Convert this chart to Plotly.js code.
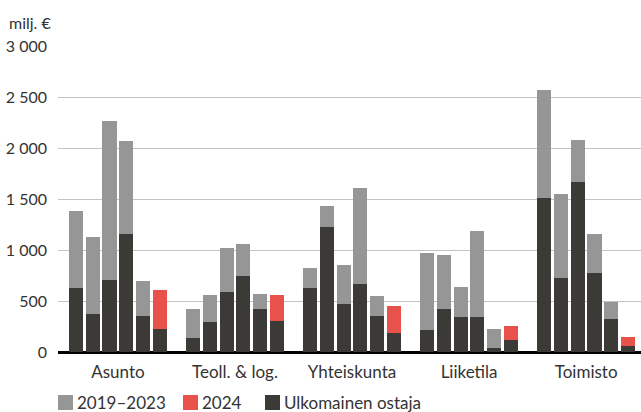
<!DOCTYPE html>
<html>
<head>
<meta charset="utf-8">
<script src="https://cdn.plot.ly/plotly-3.0.1.min.js"></script>
<style>
  html, body { margin: 0; padding: 0; background: #ffffff; }
  #chart { width: 641px; height: 412px; }
</style>
</head>
<body>
<div id="chart"></div>
<script>
// Categories and years
const categories = ['Asunto', 'Teoll. & log.', 'Yhteiskunta', 'Liiketila', 'Toimisto'];
const years = ['2019', '2020', '2021', '2022', '2023', '2024'];

// Total transaction volume per year (milj. €)
const asuntoTotal    = [1385, 1130, 2260, 2070, 700, 612];
const teollTotal     = [422, 560, 1020, 1060, 570, 560];
const yhteisTotal    = [825, 1434, 854, 1610, 550, 452];
const liikeTotal     = [972, 953, 638, 1188, 226, 255];
const toimistoTotal  = [2573, 1552, 2082, 1159, 491, 147];

// Foreign buyer share (milj. €)
const asuntoForeign   = [630, 373, 710, 1160, 354, 226];
const teollForeign    = [137, 295, 590, 746, 422, 304];
const yhteisForeign   = [628, 1228, 471, 668, 354, 187];
const liikeForeign    = [216, 422, 344, 344, 39, 118];
const toimistoForeign = [1512, 727, 1669, 776, 324, 59];

// Y-axis ticks
const yTickVals = [0, 500, 1000, 1500, 2000, 2500, 3000];
const yTickText = ['0', '500', '1 000', '1 500', '2 000', '2 500', '3 000'];

// Legend labels and colours
const legendNames = ['2019–2023', '2024', 'Ulkomainen ostaja'];
const legendColors = ['#969696', '#e8524a', '#3b3a36'];

const totals = [asuntoTotal, teollTotal, yhteisTotal, liikeTotal, toimistoTotal];
const foreigns = [asuntoForeign, teollForeign, yhteisForeign, liikeForeign, toimistoForeign];

const slotsPerGroup = years.length + 1;
const xDark = [], yDark = [], xGray = [], yGray = [], xRed = [], yRed = [];
categories.forEach((c, g) => {
  years.forEach((yr, i) => {
    const x = g * slotsPerGroup + i;
    xDark.push(x); yDark.push(foreigns[g][i]);
    const rest = totals[g][i] - foreigns[g][i];
    if (yr === '2024') { xRed.push(x); yRed.push(rest); }
    else { xGray.push(x); yGray.push(rest); }
  });
});
const groupCenters = categories.map((c, g) => g * slotsPerGroup + (years.length - 1) / 2);

const barW = 0.84;
const FONT = 'Lato, "Open Sans", sans-serif';
const TXT = '#333333';
const traces = [
  { type: 'bar', x: xDark, y: yDark, width: barW, name: legendNames[2],
    marker: { color: legendColors[2], line: { width: 0 } } },
  { type: 'bar', x: xGray, y: yGray, width: barW, name: legendNames[0],
    marker: { color: legendColors[0], line: { width: 0 } } },
  { type: 'bar', x: xRed, y: yRed, width: barW, name: legendNames[1],
    marker: { color: legendColors[1], line: { width: 0 } } }
];

// Plot area geometry (pixels) used to place the custom legend
const M = { l: 58, r: 0, t: 46, b: 60 };
const W = 641, H = 412;
const pw = W - M.l - M.r, ph = H - M.t - M.b;
const px = v => (v - M.l) / pw;
const py = v => (H - M.b - v) / ph;

const legendX = [58, 183, 265];
const sq = 15;
const legendTop = 395;
const shapes = [], annotations = [];
legendNames.forEach((n, i) => {
  shapes.push({ type: 'rect', xref: 'paper', yref: 'paper',
    x0: px(legendX[i]), x1: px(legendX[i] + sq), y0: py(legendTop + sq), y1: py(legendTop),
    fillcolor: legendColors[i], line: { width: 0 } });
  annotations.push({ text: n, xref: 'paper', yref: 'paper',
    x: px(legendX[i] + sq + 2), y: py(legendTop + sq / 2 - 0.5), xanchor: 'left', yanchor: 'middle',
    showarrow: false, font: { family: FONT, size: 17, color: TXT } });
});
annotations.push({ text: 'milj. €', xref: 'paper', yref: 'paper', x: px(7), y: py(22),
  xanchor: 'left', yanchor: 'middle', showarrow: false,
  font: { family: FONT, size: 16, color: TXT } });

const layout = {
  width: W, height: H,
  margin: M,
  paper_bgcolor: '#ffffff', plot_bgcolor: '#ffffff',
  barmode: 'stack',
  font: { family: FONT, size: 16, color: TXT },
  showlegend: false,
  xaxis: {
    range: [-1.08, 33.78], tickvals: groupCenters, ticktext: categories,
    showgrid: false, zeroline: false, showline: false, ticks: '',
    ticklabelstandoff: 8,
    tickfont: { family: FONT, size: 17, color: TXT }, fixedrange: true
  },
  yaxis: {
    range: [0, 3000], tickvals: yTickVals, ticktext: yTickText,
    showgrid: true, gridcolor: '#c4c4c4', gridwidth: 1,
    zeroline: true, zerolinecolor: '#000000', zerolinewidth: 3,
    showline: false, ticks: '', ticklabelstandoff: 10,
    tickfont: { family: FONT, size: 16, color: TXT }, fixedrange: true
  },
  shapes: shapes,
  annotations: annotations
};

Plotly.newPlot('chart', traces, layout, { staticPlot: true, displayModeBar: false });
</script>
</body>
</html>
